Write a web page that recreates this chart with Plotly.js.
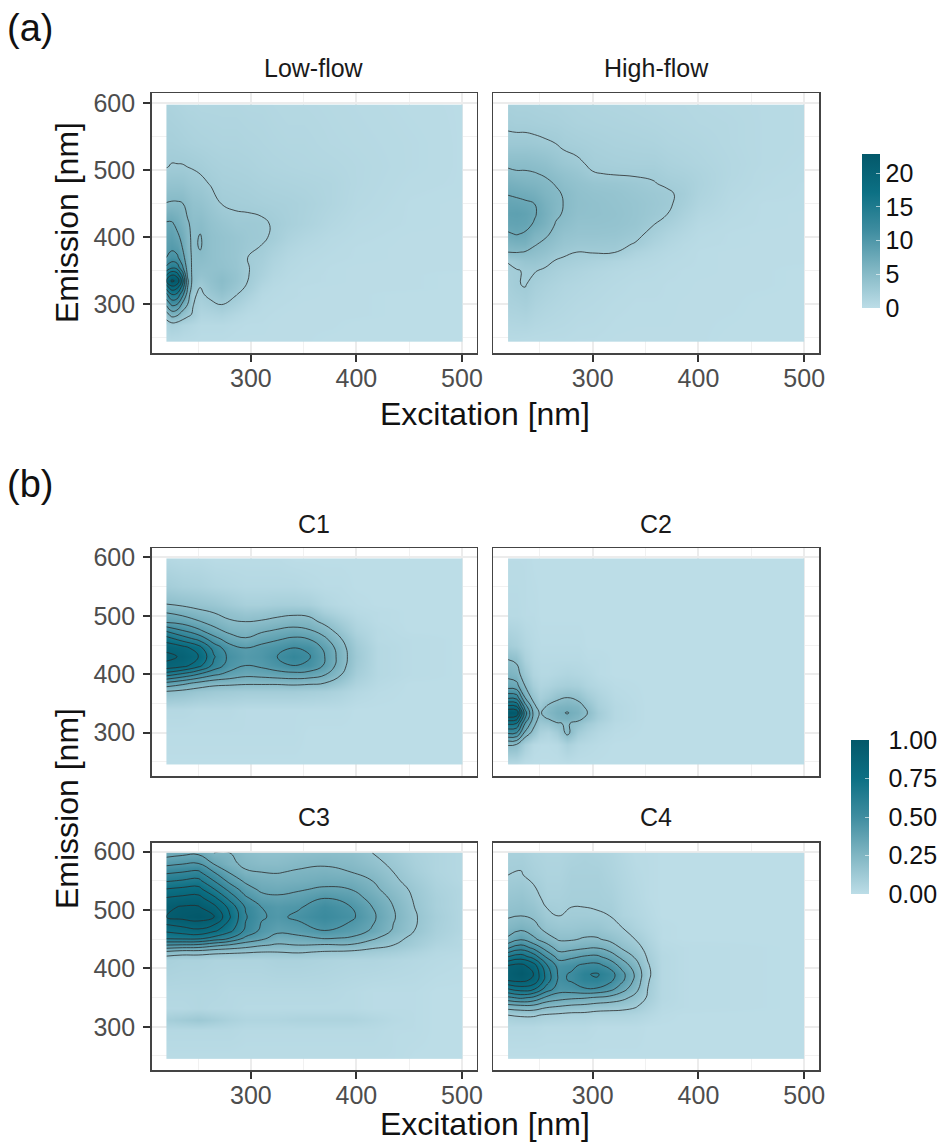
<!DOCTYPE html>
<html><head><meta charset="utf-8">
<script src="https://cdn.plot.ly/plotly-3.0.1.min.js"></script>
<style>html,body{margin:0;padding:0;background:#fff}</style></head>
<body><div id="chart" style="width:938px;height:1144px"></div>
<script>
// Each z table below holds one list per excitation value (columns).
const lowEx=[220,225,230,235,240,245,252,262,272,285,297,310,320,335,350,375,400,450,500];
const lowEm=[245,270,285,300,315,325,335,345,355,370,385,400,420,450,480,505,540,598];
const lowZ=[
[.4,1.2,4,8,12,16,20,17,13,10,9,8.5,7.8,5.1,3.6,2.45,2,1.5],
[.4,1.8,6,10.5,15,19,23,19.5,14.5,11,9.5,8.8,7.8,5.2,3.7,2.6,2,1.4],
[.4,1.6,5.5,10,14.5,18,22,18.5,14,10.5,9,8,7,5.2,3.7,2.6,1.9,1.3],
[.3,1.2,4,7,11,14,16.5,14,10.5,8.5,7.5,7,6,5.1,3.6,2.6,1.8,1.2],
[.3,1,3,5,6.5,7.5,8,7,6.5,6,5.5,5.4,5.2,4.5,3.3,2.5,1.7,1.1],
[.3,.8,2.3,2.6,2.8,3.8,4.2,4.4,4.5,4.6,4.7,4.7,4.6,4,3.1,2.4,1.6,1.1],
[.2,.5,1.1,1.7,2.2,2.5,3.2,3.8,4.2,4.7,5.1,5.1,4.7,3.8,2.9,2.2,1.5,1],
[.2,.5,1.2,2.1,3,3.6,4,4.1,4.1,4.2,4.2,4.2,3.9,3.2,2.4,1.9,1.4,1],
[.2,.5,1.4,2.6,3.7,4.4,4.7,4.4,4,3.8,3.8,3.8,3.4,2.5,2,1.7,1.3,1],
[.1,.3,.8,1.7,2.7,3.3,3.7,3.7,3.5,3.4,3.4,3.4,2.9,2.3,1.9,1.6,1.3,1],
[.1,.2,.4,.9,1.6,2.2,2.5,2.6,2.6,2.5,2.9,3,2.9,2.2,1.8,1.5,1.2,.9],
[.1,.2,.3,.4,.6,.9,1.3,1.6,1.8,2.1,2.4,2.8,2.8,2,1.6,1.3,1.1,.9],
[.1,.1,.2,.3,.4,.5,.7,.9,1.1,1.4,1.8,2.3,2.4,1.9,1.5,1.2,1,.8],
[.1,.1,.1,.2,.3,.3,.4,.5,.6,.8,1.1,1.5,1.9,1.8,1.4,1.1,.9,.7],
[.1,.1,.1,.1,.2,.2,.3,.3,.4,.5,.7,1,1.5,1.6,1.3,1,.9,.7],
[0,.1,.1,.1,.1,.1,.2,.2,.2,.3,.4,.5,.8,1.1,1.1,.9,.7,.6],
[0,0,.1,.1,.1,.1,.1,.1,.1,.2,.2,.3,.4,.6,.7,.7,.6,.5],
[0,0,0,0,0,.1,.1,.1,.1,.1,.1,.1,.2,.2,.3,.4,.4,.3],
[0,0,0,0,0,0,0,0,.1,.1,.1,.1,.1,.1,.2,.2,.2,.2]];

const highEx=[220,228,236,245,255,265,272,285,300,320,340,357,370,385,400,430,460,500];
const highEm=[245,300,330,350,365,378,390,405,420,435,450,465,480,495,510,540,570,598];
const highZ=[
[.4,1.6,2,2.2,2.6,5,6,7.3,8.2,8.6,8.1,7.4,6.5,5.5,4.6,3,2.2,1.8],
[.4,1.7,2.4,2.4,3,5.1,6.3,7.6,8.3,8.7,8,7.2,6.3,5.2,4.6,3,2.1,1.7],
[.3,1.9,2.6,2.6,3.5,4.9,6.3,7.3,8.1,8.4,7.8,7,6,5.2,4.6,3,2.1,1.7],
[.3,1.4,2,2.6,3.5,4.4,5.2,6.1,7.3,7.7,7.5,6.6,5.8,5.1,4.4,2.9,2,1.6],
[.3,1.1,1.6,2.2,3.1,3.9,4.5,5.4,6.2,6.5,6.3,5.8,5.4,4.8,4.1,2.7,1.9,1.5],
[.3,.9,1.3,1.8,2.4,3.2,3.8,4.4,4.9,5.3,5.4,5.3,4.9,4.2,3.5,2.5,1.8,1.5],
[.3,.8,1.1,1.6,2.2,2.9,3.4,3.9,4.5,4.9,5,4.9,4.4,3.9,3.2,2.2,1.7,1.4],
[.2,.6,.9,1.3,1.9,2.5,3.1,3.6,3.9,4.2,4.3,4.2,3.9,3.4,2.8,2,1.5,1.3],
[.2,.5,.7,1,1.6,2.6,3.1,3.6,3.9,4.1,4.1,3.9,3.5,2.6,2.2,1.8,1.4,1.2],
[.1,.3,.5,.7,1.2,2.6,3,3.5,3.8,3.9,3.8,3.7,3.3,2.4,2,1.6,1.3,1.1],
[.1,.2,.3,.5,.8,1.4,2.4,3,3.4,3.5,3.5,3.3,3,2.3,1.9,1.5,1.2,1],
[.1,.2,.3,.4,.6,.9,1.4,2,2.6,3,3.1,3,2.6,2.3,1.9,1.4,1.1,.9],
[.1,.2,.2,.3,.4,.6,.9,1.3,1.9,2.55,2.8,2.75,2.3,1.9,1.6,1.2,1,.8],
[.1,.1,.2,.2,.3,.4,.5,.8,1.2,1.6,2,2.2,2,1.7,1.4,1.1,.9,.8],
[.1,.1,.1,.2,.2,.2,.3,.4,.6,.9,1.2,1.4,1.5,1.4,1.2,1,.8,.7],
[0,.1,.1,.1,.1,.1,.2,.2,.3,.4,.5,.6,.7,.8,.8,.7,.7,.6],
[0,0,.1,.1,.1,.1,.1,.1,.2,.2,.2,.3,.4,.4,.5,.5,.5,.5],
[0,0,0,0,.1,.1,.1,.1,.1,.1,.2,.2,.2,.3,.3,.4,.4,.4]];

const c1Ex=[220,235,250,265,280,295,310,325,340,355,370,385,400,420,450,500];
const c1Em=[245,300,340,370,385,400,415,430,445,460,475,490,505,520,550,598];
const c1Z=[
[0,.01,.03,.19,.38,.65,.88,.92,.88,.75,.58,.38,.3,.2,.1,.03],
[0,.01,.03,.17,.33,.58,.84,.89,.84,.66,.5,.36,.27,.18,.08,.02],
[0,.01,.02,.14,.28,.5,.74,.81,.75,.58,.42,.31,.23,.16,.07,.02],
[0,.01,.02,.12,.24,.42,.57,.61,.56,.44,.33,.26,.2,.14,.05,.01],
[0,.01,.02,.11,.23,.37,.45,.47,.44,.35,.27,.21,.17,.11,.04,.01],
[0,.01,.01,.1,.22,.33,.4,.42,.4,.31,.25,.2,.14,.08,.03,.01],
[0,.01,.01,.1,.22,.34,.42,.44,.43,.36,.28,.21,.15,.08,.03,.01],
[0,.01,.01,.1,.22,.36,.46,.5,.46,.39,.31,.23,.17,.09,.03,.01],
[0,.01,.01,.1,.23,.37,.5,.55,.5,.42,.33,.25,.18,.09,.03,0],
[0,0,.01,.09,.22,.36,.48,.51,.48,.4,.31,.24,.17,.08,.02,0],
[0,0,.01,.08,.2,.31,.39,.4,.38,.32,.25,.17,.09,.04,.01,0],
[0,0,.01,.06,.13,.21,.25,.26,.25,.21,.15,.1,.05,.02,.01,0],
[0,0,0,.03,.06,.09,.11,.12,.11,.09,.06,.04,.02,.01,0,0],
[0,0,0,.01,.02,.03,.03,.03,.03,.02,.02,.01,.01,0,0,0],
[0,0,0,0,0,.01,.01,.01,.01,.01,0,0,0,0,0,0],
[0,0,0,0,0,0,0,0,0,0,0,0,0,0,0,0]];

const c2Ex=[220,228,236,244,250,258,266,276,286,295,305,320,350,500];
const c2Em=[245,280,300,316,325,334,345,360,380,400,425,450,500,598];
const c2Z=[
[.02,.21,.52,.72,.88,1,.82,.58,.35,.27,.2,.1,.02,.01],
[.02,.2,.5,.7,.85,.98,.8,.56,.33,.25,.18,.08,.02,.01],
[0,.08,.28,.4,.5,.55,.45,.3,.2,.13,.07,.04,.01,.01],
[0,.02,.16,.24,.27,.28,.24,.16,.09,.05,.03,.02,.01,0],
[0,.01,.07,.13,.17,.19,.14,.09,.05,.03,.02,.01,0,0],
[0,.01,.05,.14,.21,.24,.22,.12,.06,.03,.02,.01,0,0],
[0,.02,.1,.19,.26,.28,.26,.17,.08,.04,.02,.01,0,0],
[0,.07,.23,.21,.28,.305,.27,.2,.09,.05,.02,.01,0,0],
[0,.03,.1,.17,.24,.27,.25,.17,.08,.04,.02,.01,0,0],
[0,.02,.06,.11,.17,.2,.17,.11,.05,.03,.01,0,0,0],
[0,.01,.03,.06,.09,.1,.08,.06,.03,.01,.01,0,0,0],
[0,0,.01,.02,.03,.03,.03,.02,.01,0,0,0,0,0],
[0,0,0,0,0,0,0,0,0,0,0,0,0,0],
[0,0,0,0,0,0,0,0,0,0,0,0,0,0]];

const c3Ex=[220,235,250,265,280,295,310,325,345,370,395,415,435,455,475,500];
const c3Em=[245,295,312,330,360,415,428,440,452,465,488,505,520,535,550,565,580,598];
const c3Z=[
[.01,.03,.09,.03,.04,.08,.23,.45,.67,.77,.95,.93,.86,.76,.64,.53,.42,.3],
[.01,.03,.11,.03,.04,.07,.2,.44,.68,.8,.98,.96,.88,.78,.66,.55,.44,.32],
[.01,.03,.13,.04,.04,.07,.2,.43,.68,.83,1,.96,.89,.79,.68,.57,.45,.33],
[.01,.03,.1,.03,.04,.06,.18,.38,.62,.77,.96,.88,.78,.66,.55,.45,.34,.25],
[.01,.03,.07,.03,.03,.06,.17,.34,.55,.68,.76,.72,.62,.52,.42,.34,.27,.25],
[.01,.02,.05,.02,.03,.06,.16,.3,.43,.53,.56,.54,.47,.4,.33,.26,.23,.2],
[.01,.02,.05,.02,.03,.06,.15,.26,.38,.43,.46,.45,.39,.33,.29,.25,.21,.18],
[.01,.02,.05,.02,.03,.07,.15,.24,.3,.38,.43,.42,.37,.32,.28,.245,.21,.18],
[.01,.02,.06,.02,.03,.07,.16,.25,.32,.4,.47,.44,.39,.34,.29,.26,.23,.19],
[.01,.02,.06,.02,.03,.06,.14,.24,.36,.45,.52,.5,.45,.37,.31,.27,.24,.2],
[.01,.02,.06,.02,.02,.05,.13,.24,.34,.4,.47,.45,.4,.35,.3,.25,.22,.19],
[.01,.02,.04,.01,.01,.05,.11,.19,.27,.34,.37,.35,.32,.28,.25,.21,.18,.15],
[.01,.01,.02,.01,.01,.04,.09,.15,.19,.24,.26,.25,.23,.2,.17,.15,.13,.11],
[0,.01,.01,.01,.01,.03,.06,.1,.12,.15,.16,.15,.14,.13,.11,.09,.08,.07],
[0,0,0,0,0,.02,.03,.05,.07,.08,.09,.08,.08,.07,.06,.05,.05,.05],
[0,0,0,0,0,.01,.02,.03,.03,.04,.04,.04,.04,.04,.03,.03,.03,.03]];

const c4Ex=[220,232,244,256,268,280,292,304,316,328,340,352,365,385,500];
const c4Em=[245,300,320,335,350,365,380,390,405,420,435,450,470,490,520,560,598];
const c4Z=[
[0,.03,.1,.25,.48,.7,.91,.92,.9,.7,.49,.32,.24,.19,.15,.1,.08],
[0,.03,.11,.27,.52,.75,.93,.97,.93,.75,.56,.39,.27,.2,.16,.105,.08],
[0,.03,.11,.27,.48,.72,.88,.9,.85,.66,.48,.32,.24,.18,.13,.08,.06],
[0,.02,.09,.22,.38,.56,.66,.67,.62,.49,.36,.25,.16,.12,.08,.06,.05],
[0,.02,.08,.2,.34,.45,.48,.48,.46,.36,.26,.19,.14,.1,.08,.06,.05],
[0,.02,.07,.18,.32,.46,.51,.51,.48,.38,.27,.19,.14,.11,.09,.08,.06],
[0,.02,.07,.17,.31,.49,.58,.59,.52,.41,.29,.21,.15,.11,.09,.08,.07],
[0,.01,.06,.15,.29,.49,.59,.61,.53,.42,.3,.21,.15,.105,.09,.08,.06],
[0,.01,.06,.14,.27,.44,.53,.55,.47,.36,.26,.18,.12,.1,.08,.06,.05],
[0,.01,.06,.13,.23,.34,.42,.43,.36,.27,.19,.14,.1,.06,.05,.04,.03],
[0,.01,.05,.11,.17,.24,.28,.29,.25,.19,.14,.1,.06,.04,.03,.02,.01],
[0,0,.03,.06,.09,.1,.11,.12,.11,.09,.07,.05,.03,.02,.01,.01,.01],
[0,0,.01,.02,.03,.03,.03,.03,.03,.03,.02,.01,.01,0,0,0,0],
[0,0,0,.01,.01,.01,.01,.01,.01,.01,.01,0,0,0,0,0,0],
[0,0,0,0,0,0,0,0,0,0,0,0,0,0,0,0,0]];

const tealScale=[[0,'#BCDDE7'],[.25,'#80B6C3'],[.5,'#3F8DA0'],[.75,'#0C7084'],[1,'#03586A']];
const W=938,H=1144;
const px=v=>v/W, py=v=>1-v/H;
const panels=[
 {t:'Low-flow',x:lowEx,y:lowEm,z:lowZ,col:0,row:0,ca:'coloraxis',c:[2.5,22.5,2.5]},
 {t:'High-flow',x:highEx,y:highEm,z:highZ,col:1,row:0,ca:'coloraxis',c:[2.5,22.5,2.5]},
 {t:'C1',x:c1Ex,y:c1Em,z:c1Z,col:0,row:1,ca:'coloraxis2',c:[.2,1,.1]},
 {t:'C2',x:c2Ex,y:c2Em,z:c2Z,col:1,row:1,ca:'coloraxis2',c:[.2,1,.1]},
 {t:'C3',x:c3Ex,y:c3Em,z:c3Z,col:0,row:2,ca:'coloraxis2',c:[.15,.95,.1]},
 {t:'C4',x:c4Ex,y:c4Em,z:c4Z,col:1,row:2,ca:'coloraxis2',c:[.1,.9,.1]}];
const colPx=[[151.7,476.7],[493.3,819]];
const rowPx=[[93.3,353.3],[548.3,776],[842.7,1070]];
const titleY=[68,524,817];
const yRanges=[[227,615],[226,615.4],[226,615.4]];
const font='"Liberation Sans",Arial,sans-serif';
const pad='\u00a0\u00a0';
// A heatmap brick reaches half a gap past its outer centres; a hair-thin repeated edge stops the image at the data limits.
const edge=a=>[a[0]-.02,...a,a[a.length-1]+.02];
const edgeZ=z=>{const r=z.map(c=>[c[0],...c,c[c.length-1]]);return [r[0],...r,r[r.length-1]];};
const traces=[],annotations=[];
const layout={width:W,height:H,paper_bgcolor:'#fff',plot_bgcolor:'#fff',showlegend:false,
 font:{family:font},margin:{l:0,r:0,t:0,b:0,autoexpand:false},
 coloraxis:{cmin:0,cmax:22.8,colorscale:tealScale,colorbar:{
   x:px(862),xanchor:'left',y:py(231.2),yanchor:'middle',len:154.3,lenmode:'pixels',thickness:18.3,thicknessmode:'pixels',
   xpad:0,ypad:0,outlinewidth:0,tickvals:[0,5,10,15,20],ticks:'inside',tickcolor:'#fff',ticklen:4,tickwidth:.6,tickprefix:pad,
   tickfont:{family:font,size:25,color:'#111'}}},
 coloraxis2:{cmin:0,cmax:1,colorscale:tealScale,colorbar:{
   x:px(851),xanchor:'left',y:py(817),yanchor:'middle',len:154,lenmode:'pixels',thickness:18.3,thicknessmode:'pixels',
   xpad:0,ypad:0,outlinewidth:0,tickvals:[0,.25,.5,.75,1],ticktext:[pad+'0.00',pad+'0.25',pad+'0.50',pad+'0.75',pad+'1.00'],ticks:'inside',tickcolor:'#fff',ticklen:4,tickwidth:.6,
   tickfont:{family:font,size:25,color:'#111'}}},
 annotations};
panels.forEach((p,i)=>{
 const n=i+1,sx=n===1?'':n,xa='x'+sx,ya='y'+sx;
 traces.push({type:'heatmap',x:edge(p.x),y:edge(p.y),z:edgeZ(p.z),transpose:true,zsmooth:'best',coloraxis:p.ca,xaxis:xa,yaxis:ya,hoverinfo:'skip'});
 traces.push({type:'contour',x:p.x,y:p.y,z:p.z,transpose:true,autocontour:false,showscale:false,xaxis:xa,yaxis:ya,hoverinfo:'skip',
  contours:{start:p.c[0],end:p.c[1],size:p.c[2],coloring:'none'},line:{color:'#2b2b2b',width:.8,smoothing:1.3}});
 const common={showline:true,mirror:true,linecolor:'#444',linewidth:1.5,zeroline:false,showgrid:true,gridcolor:'#ececec',gridwidth:2,
  dtick:100,tick0:0,ticklen:7,tickwidth:2,tickcolor:'#333',tickfont:{family:font,size:25,color:'#4d4d4d'},
  minor:{dtick:50,tick0:0,showgrid:true,gridcolor:'#f1f1f1',gridwidth:1,ticks:''},layer:'below traces'};
 const xShow=p.row!==1, yShow=p.col===0;
 layout['xaxis'+sx]=Object.assign({},common,{domain:[px(colPx[p.col][0]),px(colPx[p.col][1])],range:[206,514],anchor:ya,
  ticks:xShow?'outside':'',showticklabels:xShow,ticklabelstandoff:-5});
 layout['yaxis'+sx]=Object.assign({},common,{domain:[py(rowPx[p.row][1]),py(rowPx[p.row][0])],range:yRanges[p.row],anchor:xa,
  ticks:yShow?'outside':'',showticklabels:yShow,ticklabelstandoff:3});
 annotations.push({text:p.t,showarrow:false,xref:'paper',yref:'paper',x:px((colPx[p.col][0]+colPx[p.col][1])/2),y:py(titleY[p.row]),
  xanchor:'center',yanchor:'middle',font:{family:font,size:25,color:'#1a1a1a'}});
});
const label=(text,x,y,size,extra)=>annotations.push(Object.assign({text,showarrow:false,xref:'paper',yref:'paper',x:px(x),y:py(y),
  xanchor:'center',yanchor:'middle',font:{family:font,size,color:'#111'}},extra||{}));
label('(a)',5,28,38,{xanchor:'left'});
label('(b)',5,484,38,{xanchor:'left'});
label('Excitation [nm]',485,414,32);
label('Excitation [nm]',485,1124,32);
label('Emission [nm]',67,223,32,{textangle:-90});
label('Emission [nm]',67,809,32,{textangle:-90});
Plotly.newPlot('chart',traces,layout,{displayModeBar:false,staticPlot:true});
</script></body></html>
